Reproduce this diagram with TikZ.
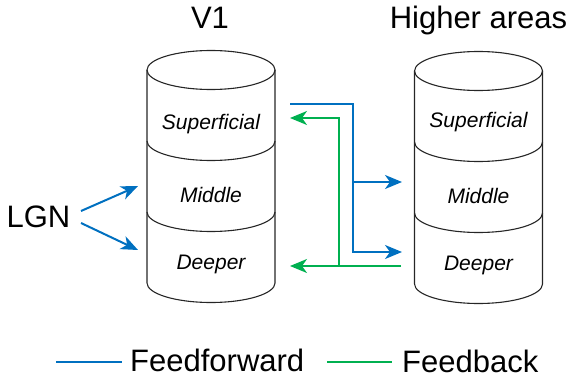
\documentclass[tikz,border=0pt]{standalone}
\usepackage{fontspec}
\setmainfont{Liberation Sans}
\usetikzlibrary{arrows.meta}
\definecolor{ffblue}{HTML}{0070C0}
\definecolor{fbgreen}{HTML}{00B050}
\tikzset{
  cyl/.style={draw=black!85, line width=1.1pt},
  big/.style={font=\fontsize{31}{36}\selectfont, inner sep=0pt, anchor=base},
  lbl/.style={font=\fontsize{21}{25}\selectfont\itshape, inner sep=0pt, anchor=base},
  tip/.style={-{Stealth[length=17pt, width=14pt, inset=5pt]}},
  ff/.style={draw=ffblue, line width=2pt},
  fb/.style={draw=fbgreen, line width=2pt},
  % three-layer cylinder, origin at the centre of the top ellipse
  layercyl/.pic={
    \draw[cyl, fill=white] (0,0) ellipse [x radius=64, y radius=19.5];
    \draw[cyl] (-64,0) -- (-64,213)
      arc[start angle=180, end angle=0, x radius=64, y radius=19.5] -- (64,0);
    \draw[cyl] (-64,71) arc[start angle=180, end angle=0, x radius=64, y radius=19.5];
    \draw[cyl] (-64,142) arc[start angle=180, end angle=0, x radius=64, y radius=19.5];
  }
}
\begin{document}
\begin{tikzpicture}[x=1pt, y=-1pt]
\useasboundingbox (0,0) rectangle (572,377);

% cylinders
\pic at (211,70) {layercyl};
\pic at (478.5,71) {layercyl};

% titles
\node[big] (titleV) at (210,29) {V1};
\node[big] (titleH) at (478.5,29) {Higher areas};

% layer labels
\node[lbl] (v1sup)  at (211,129) {Superficial};
\node[lbl] (v1mid)  at (211,202) {Middle};
\node[lbl] (v1deep) at (211,269) {Deeper};
\node[lbl] (hsup)   at (478.5,128) {Superficial};
\node[lbl] (hmid)   at (478.5,203) {Middle};
\node[lbl] (hdeep)  at (478.5,270) {Deeper};

% LGN input
\node[big] (lgn) at (38.5,227) {LGN};
\coordinate (lgnA) at (81,211);
\coordinate (lgnB) at (81,223);
\coordinate (v1midIn) at (138,186);
\coordinate (v1deepIn) at (138,250);
\draw[ff, tip] (lgnA) -- (v1midIn);
\draw[ff, tip] (lgnB) -- (v1deepIn);

% feedforward: V1 superficial -> higher middle and deeper
\coordinate (ffOut) at (290,104);
\coordinate (ffTurn) at (353,104);
\coordinate (ffSplit) at (353,182);
\coordinate (ffCorner) at (353,252);
\coordinate (hmidIn) at (402,182);
\coordinate (hdeepIn) at (402,252);
\draw[ff, tip] (ffOut) -- (ffTurn) -- (ffCorner) -- (hdeepIn);
\draw[ff, tip] (ffSplit) -- (hmidIn);

% feedback: higher deeper -> V1 deeper and superficial
\coordinate (fbOut) at (401,266);
\coordinate (fbSplit) at (339,266);
\coordinate (fbCorner) at (339,118);
\coordinate (v1deepBack) at (290,266);
\coordinate (v1supBack) at (290,118);
\draw[fb, tip] (fbOut) -- (v1deepBack);
\draw[fb, tip] (fbSplit) -- (fbCorner) -- (v1supBack);

% legend
\coordinate (legA) at (56,362);
\coordinate (legB) at (122,362);
\coordinate (legC) at (327,362);
\coordinate (legD) at (392,362);
\draw[ff] (legA) -- (legB);
\draw[fb] (legC) -- (legD);
\node[big, anchor=base west] (legFF) at (130,371.5) {Feedforward};
\node[big, anchor=base west] (legFB) at (402,372) {Feedback};
\end{tikzpicture}
\end{document}
